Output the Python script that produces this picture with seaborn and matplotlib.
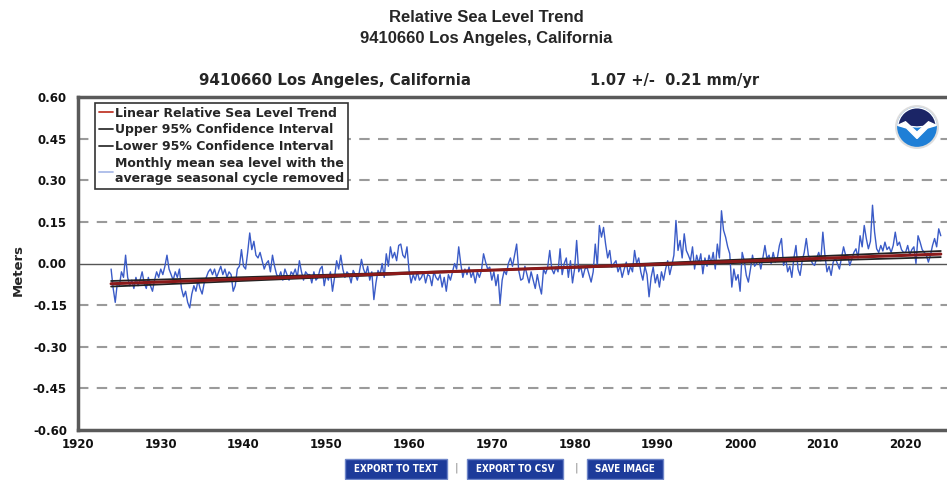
import numpy as np
import pandas as pd
import seaborn as sns
import matplotlib.pyplot as plt
from matplotlib.lines import Line2D
from matplotlib.patches import Circle, Wedge, Polygon, Rectangle

# Monthly mean sea level (seasonal cycle removed) at quarterly steps, metres
start_year = 1924.0
msl = [
    -0.02, -0.09, -0.14, -0.07,    # 1924
    -0.08, -0.03, -0.05, 0.03,     # 1925
    -0.05, -0.08, -0.06, -0.09,    # 1926
    -0.05, -0.08, -0.06, -0.03,    # 1927
    -0.07, -0.09, -0.05, -0.08,    # 1928
    -0.10, -0.06, -0.03, -0.05,    # 1929
    -0.02, -0.04, -0.01, 0.03,     # 1930
    -0.02, -0.04, -0.06, -0.03,    # 1931
    -0.05, -0.02, -0.09, -0.12,    # 1932
    -0.10, -0.14, -0.16, -0.11,    # 1933
    -0.08, -0.10, -0.06, -0.09,    # 1934
    -0.11, -0.07, -0.05, -0.03,    # 1935
    -0.02, -0.04, -0.02, -0.05,    # 1936
    -0.03, -0.01, -0.04, -0.02,    # 1937
    -0.05, -0.03, -0.04, -0.10,    # 1938
    -0.08, -0.02, -0.01, 0.05,     # 1939
    -0.01, -0.02, 0.04, 0.11,      # 1940
    0.05, 0.08, 0.03, 0.02,        # 1941
    0.04, 0.01, -0.02, 0.00,       # 1942
    0.01, -0.03, 0.03, -0.01,      # 1943
    -0.04, -0.05, -0.03, -0.06,    # 1944
    -0.02, -0.04, -0.06, -0.03,    # 1945
    -0.04, -0.02, -0.05, 0.01,     # 1946
    -0.03, -0.06, -0.03, -0.04,    # 1947
    -0.04, -0.07, -0.03, -0.06,    # 1948
    -0.05, -0.02, -0.01, -0.08,    # 1949
    -0.04, -0.06, -0.03, -0.10,    # 1950
    -0.05, 0.01, -0.02, 0.03,      # 1951
    -0.02, -0.05, -0.03, -0.04,    # 1952
    -0.07, -0.025, -0.04, -0.06,   # 1953
    -0.03, 0.015, -0.02, -0.04,    # 1954
    -0.01, -0.06, -0.03, -0.13,    # 1955
    -0.07, -0.025, -0.04, 0.00,    # 1956
    -0.05, 0.035, -0.01, 0.06,     # 1957
    0.02, 0.04, 0.01, 0.065,       # 1958
    0.07, 0.03, 0.02, 0.06,        # 1959
    -0.025, -0.07, -0.04, -0.06,   # 1960
    -0.03, -0.06, -0.05, -0.03,    # 1961
    -0.07, -0.04, -0.045, -0.08,   # 1962
    -0.03, -0.05, -0.06, -0.04,    # 1963
    -0.085, -0.05, -0.10, -0.04,   # 1964
    -0.06, -0.03, 0.00, -0.02,     # 1965
    0.06, -0.001, -0.05, -0.02,    # 1966
    -0.04, -0.013, -0.05, -0.03,   # 1967
    -0.07, -0.03, -0.05, -0.025,   # 1968
    0.035, 0.005, -0.02, -0.013,   # 1969
    -0.06, -0.03, -0.08, -0.04,    # 1970
    -0.145, -0.06, -0.025, -0.04,  # 1971
    0.00, 0.02, -0.01, 0.03,       # 1972
    0.07, -0.025, -0.06, -0.055,   # 1973
    -0.01, -0.04, -0.07, -0.03,    # 1974
    -0.06, -0.09, -0.04, -0.08,    # 1975
    -0.11, -0.02, -0.037, -0.013,  # 1976
    0.047, -0.02, -0.037, -0.013,  # 1977
    -0.03, 0.053, -0.04, 0.00,     # 1978
    0.02, -0.05, 0.01, -0.07,      # 1979
    -0.02, 0.083, -0.03, -0.01,    # 1980
    -0.05, -0.02, -0.013, -0.04,   # 1981
    -0.067, -0.03, 0.07, -0.01,    # 1982
    0.137, 0.095, 0.13, 0.07,      # 1983
    0.02, 0.047, -0.013, 0.00,     # 1984
    0.01, -0.03, -0.01, -0.05,     # 1985
    -0.02, 0.005, -0.04, -0.01,    # 1986
    -0.03, 0.047, 0.00, 0.02,      # 1987
    -0.03, -0.06, -0.01, -0.04,    # 1988
    -0.12, -0.05, -0.013, -0.07,   # 1989
    -0.04, -0.085, -0.03, -0.06,   # 1990
    -0.02, 0.01, -0.04, -0.007,    # 1991
    0.03, 0.155, 0.047, 0.083,     # 1992
    0.02, 0.107, 0.047, 0.03,      # 1993
    0.01, 0.06, -0.02, 0.03,       # 1994
    0.00, 0.035, -0.037, 0.02,     # 1995
    -0.01, 0.03, 0.00, 0.04,       # 1996
    -0.02, 0.07, 0.02, 0.19,       # 1997
    0.12, 0.095, 0.06, 0.035,      # 1998
    -0.085, -0.02, -0.06, -0.04,   # 1999
    -0.10, 0.04, 0.01, -0.043,     # 2000
    -0.067, -0.02, 0.03, -0.01,    # 2001
    0.00, 0.017, -0.02, 0.02,      # 2002
    0.065, 0.017, 0.03, 0.00,      # 2003
    0.04, 0.005, 0.02, 0.065,      # 2004
    0.09, -0.007, 0.02, -0.03,     # 2005
    -0.01, -0.05, 0.02, 0.065,     # 2006
    -0.02, -0.043, 0.01, 0.04,     # 2007
    0.09, 0.03, 0.017, 0.00,       # 2008
    -0.007, 0.02, 0.04, 0.01,      # 2009
    0.113, 0.03, -0.03, -0.01,     # 2010
    -0.043, 0.005, 0.02, 0.00,     # 2011
    -0.02, 0.02, 0.06, 0.03,       # 2012
    0.03, -0.007, 0.017, 0.04,     # 2013
    0.053, 0.02, 0.10, 0.06,       # 2014
    0.137, 0.09, 0.053, 0.08,      # 2015
    0.21, 0.113, 0.053, 0.04,      # 2016
    0.065, 0.045, 0.077, 0.05,     # 2017
    0.06, 0.04, 0.065, 0.113,      # 2018
    0.065, 0.077, 0.05, 0.04,      # 2019
    0.04, 0.065, 0.03, 0.05,       # 2020
    0.06, 0.00, 0.10, 0.077,       # 2021
    0.05, 0.04, 0.03, 0.005,       # 2022
    0.03, 0.065, 0.09, 0.06,       # 2023
    0.125, 0.10,                   # 2024
]

# Linear trend and 95% confidence lines (end points)
trend_years = [1924.0, 2024.25]
trend = [-0.073, 0.034]
upper_ci = [-0.083, 0.045]
lower_ci = [-0.063, 0.023]

y_ticks = [0.60, 0.45, 0.30, 0.15, 0.00, -0.15, -0.30, -0.45, -0.60]
grid_levels = [0.45, 0.30, 0.15, -0.15, -0.30, -0.45]
x_ticks = [1920, 1930, 1940, 1950, 1960, 1970, 1980, 1990, 2000, 2010, 2020]

years = start_year + np.arange(len(msl)) / 4.0
df = pd.DataFrame({"year": years, "msl": msl})
tr = pd.DataFrame({"year": trend_years, "trend": trend, "upper": upper_ci, "lower": lower_ci})

sns.set_theme(style="white")
plt.rcParams['font.family'] = ['DejaVu Sans']

fig = plt.figure(figsize=(9.47, 4.8), dpi=100)
ax = fig.add_axes([78 / 947, 50 / 480, 869 / 947, 333 / 480])

for g in grid_levels:
    ax.axhline(g, color='#9a9a9a', lw=1.5, ls=(0, (5, 4)), zorder=1)
ax.axhline(0, color='#555555', lw=1.0, zorder=1)

sns.lineplot(data=df, x="year", y="msl", ax=ax, color='#3a5bc7', lw=1.0, zorder=3)
sns.lineplot(data=tr, x="year", y="upper", ax=ax, color='#222222', lw=1.3, zorder=4)
sns.lineplot(data=tr, x="year", y="lower", ax=ax, color='#222222', lw=1.3, zorder=4)
sns.lineplot(data=tr, x="year", y="trend", ax=ax, color='#8b1a1a', lw=2.2, zorder=5)

ax.set_xlim(1920, 2025)
ax.set_ylim(-0.6, 0.6)
ax.set_yticks(y_ticks)
ax.set_yticklabels([f"{v:.2f}" for v in y_ticks], fontsize=8.5, fontweight='bold')
ax.set_xticks(x_ticks)
ax.set_xticklabels([str(v) for v in x_ticks], fontsize=8.5, fontweight='bold')
ax.tick_params(axis='both', length=3, width=1, color='#888888', colors='#111111')
ax.tick_params(axis='both', color='#888888')
ax.tick_params(axis='y', pad=5)
ax.tick_params(axis='x', pad=3)
ax.set_xlabel("")
ax.set_ylabel("")

for side in ['left', 'bottom', 'top']:
    ax.spines[side].set_color('#5a5a5a')
    ax.spines[side].set_linewidth(2.5)
ax.spines['right'].set_visible(False)

handles = [
    Line2D([], [], color='#c0392b', lw=1.3),
    Line2D([], [], color='#333333', lw=1.3),
    Line2D([], [], color='#333333', lw=1.3),
    Line2D([], [], color='#aabbe8', lw=1.3),
]
labels = [
    "Linear Relative Sea Level Trend",
    "Upper 95% Confidence Interval",
    "Lower 95% Confidence Interval",
    "Monthly mean sea level with the\naverage seasonal cycle removed",
]
leg = ax.legend(handles, labels, loc='upper left', bbox_to_anchor=(17 / 869, 1 - 6 / 333),
                borderaxespad=0, frameon=True, fancybox=False, framealpha=1,
                edgecolor='#333333', handlelength=1.1, handletextpad=0.2,
                labelspacing=0.3, borderpad=0.3,
                prop={'size': 9, 'weight': 'bold'})
leg.get_frame().set_linewidth(1.2)

# titles
fig.text(486 / 947, 1 - 18 / 480, "Relative Sea Level Trend", ha='center', va='center',
         fontsize=12, fontweight='bold', family='Liberation Sans')
fig.text(486 / 947, 1 - 39 / 480, "9410660 Los Angeles, California", ha='center', va='center',
         fontsize=12, fontweight='bold', family='Liberation Sans')
fig.text(335 / 947, 1 - 80 / 480, "9410660 Los Angeles, California", ha='center', va='center',
         fontsize=10.8, fontweight='bold')
fig.text(675 / 947, 1 - 80 / 480, "1.07 +/-  0.21 mm/yr", ha='center', va='center',
         fontsize=10.5, fontweight='bold')
fig.text(18 / 947, 1 - 270 / 480, "Meters", ha='center', va='center', rotation=90,
         fontsize=9.5, fontweight='bold')

# NOAA-style emblem
lax = fig.add_axes([(917 - 23) / 947, 1 - (127 + 23) / 480, 46 / 947, 46 / 480])
lax.set_xlim(-1.1, 1.1)
lax.set_ylim(-1.1, 1.1)
lax.set_aspect('equal')
lax.axis('off')
lax.add_patch(Circle((0, 0), 1.0, facecolor='#1f7fd6', edgecolor='#dddddd', lw=1.5))
lax.add_patch(Wedge((0, 0), 0.92, 5, 175, facecolor='#1b2566'))
lax.add_patch(Polygon([(-0.92, 0.08), (-0.55, 0.25), (0, -0.25), (0.55, 0.25), (0.92, 0.08),
                       (0.5, -0.05), (0, -0.55), (-0.5, -0.05)], facecolor='white'))

# bottom buttons
buttons = [("EXPORT TO TEXT", 345, 102), ("EXPORT TO CSV", 467, 96), ("SAVE IMAGE", 587, 76)]
for text, x0, w in buttons:
    fig.patches.append(Rectangle((x0 / 947, 1 - 479 / 480), w / 947, 20 / 480,
                                 transform=fig.transFigure, facecolor='#1d3b9a',
                                 edgecolor='#6f86c9', lw=1))
    fig.text((x0 + w / 2) / 947, 1 - 469 / 480, text, ha='center', va='center', color='white',
             fontsize=7, fontweight='bold', fontstretch='condensed')
for xs in [456, 576]:
    fig.text(xs / 947, 1 - 468 / 480, "|", ha='center', va='center', color='#888888', fontsize=8)

fig.savefig("out.png", dpi=100)
